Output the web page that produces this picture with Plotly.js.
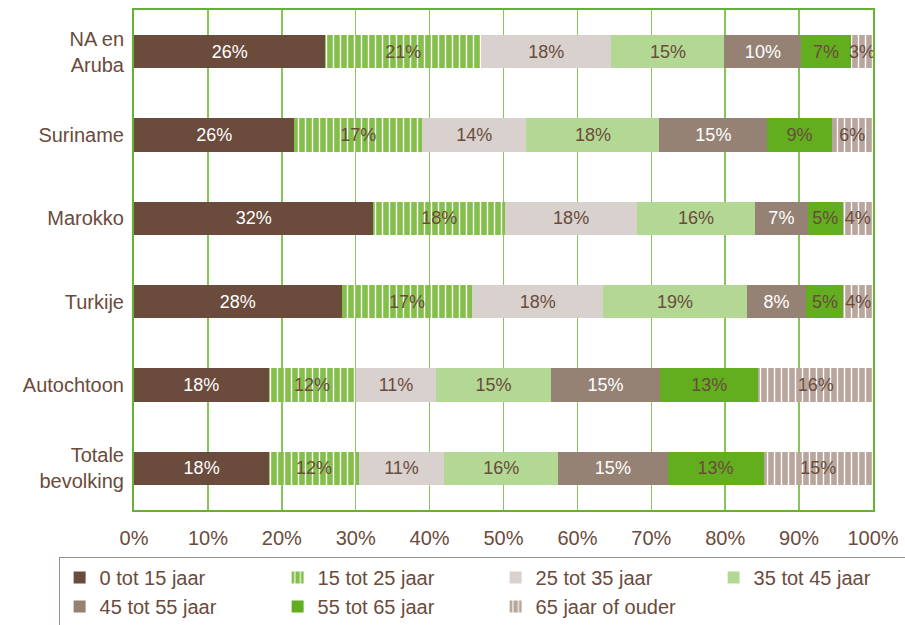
<!DOCTYPE html>
<html>
<head>
<meta charset="utf-8">
<script src="https://cdn.plot.ly/plotly-3.0.1.min.js"></script>
<style>
html,body{margin:0;padding:0;background:#fff;}
#chart{width:905px;height:625px;}
</style>
</head>
<body>
<div id="chart"></div>
<script>
const categories = ['NA en<br>Aruba', 'Suriname', 'Marokko', 'Turkije', 'Autochtoon', 'Totale<br>bevolking'];
const seriesNames = ['0 tot 15 jaar', '15 tot 25 jaar', '25 tot 35 jaar', '35 tot 45 jaar', '45 tot 55 jaar', '55 tot 65 jaar', '65 jaar of ouder'];

// bar widths (share of each group, %)
const age0_15  = [25.9, 21.7, 32.4, 28.1, 18.2, 18.3];
const age15_25 = [21.1, 17.3, 17.8, 17.7, 11.8, 12.1];
const age25_35 = [17.6, 14.1, 17.9, 17.7, 10.9, 11.6];
const age35_45 = [15.3, 18.0, 15.9, 19.4, 15.5, 15.4];
const age45_55 = [10.4, 14.6, 7.2, 8.1, 14.8, 14.8];
const age55_65 = [6.7, 8.7, 4.7, 5.0, 13.3, 13.0];
const age65plus = [3.0, 5.6, 4.1, 4.0, 15.5, 14.8];

// labels printed on the bars
const lbl0_15  = ['26%', '26%', '32%', '28%', '18%', '18%'];
const lbl15_25 = ['21%', '17%', '18%', '17%', '12%', '12%'];
const lbl25_35 = ['18%', '14%', '18%', '18%', '11%', '11%'];
const lbl35_45 = ['15%', '18%', '16%', '19%', '15%', '16%'];
const lbl45_55 = ['10%', '15%', '7%', '8%', '15%', '15%'];
const lbl55_65 = ['7%', '9%', '5%', '5%', '13%', '13%'];
const lbl65plus = ['3%', '6%', '4%', '4%', '16%', '15%'];

const xTickVals = [0, 10, 20, 30, 40, 50, 60, 70, 80, 90, 100];
const xTickText = ['0%', '10%', '20%', '30%', '40%', '50%', '60%', '70%', '80%', '90%', '100%'];

const values = [age0_15, age15_25, age25_35, age35_45, age45_55, age55_65, age65plus];
const labels = [lbl0_15, lbl15_25, lbl25_35, lbl35_45, lbl45_55, lbl55_65, lbl65plus];
const colors = ['#6A4B3C', '#84BF4B', '#D9D1CE', '#B2D893', '#968275', '#62AE1F', '#B8A69D'];
const textColors = ['#FFFFFF', '#6A4B3C', '#6A4B3C', '#6A4B3C', '#FFFFFF', '#6A4B3C', '#6A4B3C'];
const striped = [false, true, false, false, false, false, true];
const FONT = 'Liberation Sans, Arial, sans-serif';
const BROWN = '#6A4B3C';

const data = values.map((v, i) => {
  const marker = {color: colors[i], line: {width: 0}};
  if (striped[i]) {
    marker.pattern = {shape: '|', bgcolor: colors[i], fgcolor: '#FFFFFF', size: 7, solidity: 0.2, fillmode: 'replace'};
  }
  return {
    type: 'bar',
    orientation: 'h',
    name: seriesNames[i],
    y: categories,
    x: v,
    text: labels[i],
    textposition: 'inside',
    insidetextanchor: 'middle',
    constraintext: 'none',
    textangle: 0,
    textfont: {family: FONT, size: 18, color: textColors[i]},
    marker: marker,
    hoverinfo: 'x+name'
  };
});

const layout = {
  width: 905,
  height: 625,
  margin: {l: 133.5, r: 31.5, t: 10, b: 115, autoexpand: false},
  paper_bgcolor: '#FFFFFF',
  plot_bgcolor: '#FFFFFF',
  barmode: 'stack',
  bargap: 0.6,
  font: {family: FONT, size: 20, color: BROWN},
  showlegend: true,
  xaxis: {
    range: [0, 100],
    tickvals: xTickVals,
    ticktext: xTickText,
    tickfont: {family: FONT, size: 20, color: BROWN},
    ticks: '',
    ticklabelstandoff: 9,
    showgrid: true,
    gridcolor: 'rgb(135,198,90)',
    gridwidth: 1.5,
    zeroline: false,
    showline: true,
    linecolor: '#66B032',
    linewidth: 2,
    mirror: true,
    fixedrange: true
  },
  yaxis: {
    autorange: 'reversed',
    type: 'category',
    tickfont: {family: FONT, size: 20, color: BROWN},
    ticks: '',
    ticklabelstandoff: 4,
    showgrid: false,
    zeroline: false,
    showline: true,
    linecolor: '#66B032',
    linewidth: 2,
    mirror: true,
    fixedrange: true
  },
  legend: {
    orientation: 'h',
    x: -0.102,
    xanchor: 'left',
    y: -0.094,
    yanchor: 'top',
    traceorder: 'normal',
    entrywidth: 173,
    entrywidthmode: 'pixels',
    bordercolor: '#A08C80',
    borderwidth: 1,
    bgcolor: '#FFFFFF',
    font: {family: FONT, size: 20, color: BROWN}
  }
};

Plotly.newPlot('chart', data, layout, {displayModeBar: false, staticPlot: true});
</script>
</body>
</html>
